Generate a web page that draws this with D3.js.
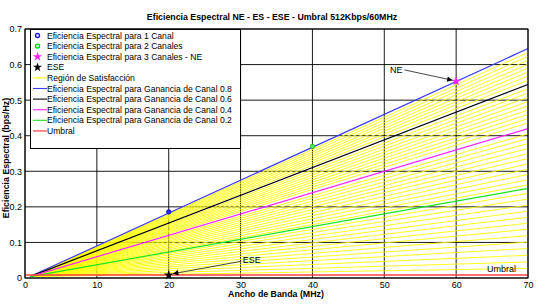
<!DOCTYPE html>
<html><head><meta charset="utf-8">
<script src="https://cdn.jsdelivr.net/npm/d3@7"></script>
<style>body{margin:0;background:#fff}svg{display:block;font-family:"Liberation Sans",Arial,sans-serif}</style>
</head><body><svg id="c" width="545" height="304"></svg>
<script>
const xTicks = [0,10,20,30,40,50,60,70];
const yTicks = [0,0.1,0.2,0.3,0.4,0.5,0.6,0.7];
const lineStart = [0.7, 0.004];
const xEnd = 70;
const gainLabels = ["0.8","0.6","0.4","0.2"];
const gainEnd = [0.645, 0.544, 0.420, 0.252];
const gainColors = ["#3a3aff","#000000","#ff22ff","#19e619"];
const fanEnd = [0.634,0.623,0.612,0.601,0.590,0.579,0.568,0.556,0.532,0.520,0.508,0.496,0.484,0.472,0.460,0.448,0.436,0.405,0.392,0.378,0.364,0.350,0.336,0.321,0.306,0.291,0.276,0.262,0.238,0.222,0.205,0.188,0.171,0.154,0.137,0.119,0.101,0.083,0.064,0.045,0.027];
const umbral = 0.0085;
const pointX = [20, 40, 60, 20];
const pointY = [0.186, 0.370, 0.553, 0.0085];
const legendLabels = ["Eficiencia Espectral para 1 Canal","Eficiencia Espectral para 2 Canales","Eficiencia Espectral para 3 Canales - NE","ESE","Región de Satisfacción","Eficiencia Espectral para Ganancia de Canal 0.8","Eficiencia Espectral para Ganancia de Canal 0.6","Eficiencia Espectral para Ganancia de Canal 0.4","Eficiencia Espectral para Ganancia de Canal 0.2","Umbral"];

const svg = d3.select("#c");
const x = d3.scaleLinear().domain([0,70]).range([25,528]);
const y = d3.scaleLinear().domain([0,0.7]).range([278,29]);
const X0=25,X1=528,Y0=278,Y1=29;

// grid
const g = svg.append("g");
g.selectAll(".vg").data(xTicks).enter().append("line").attr("x1",d=>x(d)).attr("x2",d=>x(d)).attr("y1",Y0).attr("y2",Y1).attr("stroke","#000").attr("stroke-width",0.9);
g.selectAll(".hg").data(yTicks).enter().append("line").attr("x1",X0).attr("x2",X1).attr("y1",d=>y(d)).attr("y2",d=>y(d)).attr("stroke","#000").attr("stroke-width",0.9);

// yellow fan
const line = d3.line().x(d=>x(d[0])).y(d=>y(d[1]));
svg.append("g").selectAll("path").data(fanEnd).enter().append("path")
  .attr("d",d=>line([lineStart,[xEnd,d]])).attr("fill","none").attr("stroke","#ffff00").attr("stroke-width",0.9);

// gain lines
svg.append("g").selectAll("path").data(gainEnd).enter().append("path")
  .attr("d",d=>line([lineStart,[xEnd,d]])).attr("fill","none").attr("stroke",(d,i)=>gainColors[i]).attr("stroke-width",1.2);

// umbral
svg.append("path").attr("d",line([[0,umbral],[70,umbral]])).attr("stroke","#ff4040").attr("stroke-width",1.3).attr("fill","none");

// axes box
svg.append("rect").attr("x",X0).attr("y",Y1).attr("width",X1-X0).attr("height",Y0-Y1).attr("fill","none").attr("stroke","#000").attr("stroke-width",1);

// axes via d3
const xa = svg.append("g").attr("transform",`translate(0,${Y0})`).call(d3.axisBottom(x).tickValues(xTicks).tickSize(0).tickPadding(4).tickFormat(d3.format("d")));
xa.select(".domain").remove();
xa.selectAll("text").attr("font-size",9).attr("font-family","Liberation Sans, Arial").attr("fill","#000");
const ya = svg.append("g").attr("transform",`translate(${X0},0)`).call(d3.axisLeft(y).tickValues(yTicks).tickSize(0).tickPadding(3).tickFormat(d=>d===0?"0":d3.format(".1f")(d)));
ya.select(".domain").remove();
ya.selectAll("text").attr("font-size",9).attr("font-family","Liberation Sans, Arial").attr("fill","#000");

// markers
const star5 = d3.symbol().type(d3.symbolStar).size(28)();
svg.append("circle").attr("cx",x(pointX[0])).attr("cy",y(pointY[0])).attr("r",2.2).attr("fill","#2a2aff").attr("stroke","#0000cc").attr("stroke-width",0.8);
svg.append("circle").attr("cx",x(pointX[1])).attr("cy",y(pointY[1])).attr("r",2.2).attr("fill","#55ee55").attr("stroke","#00cc00").attr("stroke-width",0.8);
svg.append("path").attr("d",star5).attr("transform",`translate(${x(pointX[2])},${y(pointY[2])})`).attr("fill","#ff22ff");
svg.append("path").attr("d",d3.symbol().type(d3.symbolStar).size(30)()).attr("transform",`translate(${x(pointX[3])},${y(pointY[3])})`).attr("fill","#000");

// annotations
const defs = svg.append("defs");
defs.append("marker").attr("id","ah").attr("viewBox","0 0 10 10").attr("refX",10).attr("refY",5).attr("markerWidth",7).attr("markerHeight",6).attr("orient","auto")
  .append("path").attr("d","M0,0L10,5L0,10z").attr("fill","#000");
svg.append("text").attr("x",x(50.8)).attr("y",y(0.585)+3).attr("font-size",9).text("NE");
svg.append("line").attr("x1",x(52.8)).attr("y1",y(0.585)).attr("x2",x(59.5)).attr("y2",y(0.556)).attr("stroke","#333").attr("stroke-width",0.9).attr("marker-end","url(#ah)");
svg.append("text").attr("x",x(30.3)).attr("y",y(0.05)+3).attr("font-size",9).text("ESE");
svg.append("line").attr("x1",x(30.1)).attr("y1",y(0.047)).attr("x2",x(20.6)).attr("y2",y(0.012)).attr("stroke","#333").attr("stroke-width",0.9).attr("marker-end","url(#ah)");
svg.append("text").attr("x",x(64.3)).attr("y",y(0.0085)-3).attr("font-size",9).text("Umbral");

// legend
const L = svg.append("g");
L.append("rect").attr("x",30.5).attr("y",29.5).attr("width",210).attr("height",119).attr("fill","#fff").attr("stroke","#000").attr("stroke-width",1);
const rowY = i => 35.5 + i*10.6;
legendLabels.forEach((t,i)=>{
  L.append("text").attr("x",47).attr("y",rowY(i)+3).attr("font-size",8.6).text(t);
});
L.append("circle").attr("cx",37.5).attr("cy",rowY(0)).attr("r",2).attr("fill","#fff").attr("stroke","#1a1aff").attr("stroke-width",1.4);
L.append("circle").attr("cx",37.5).attr("cy",rowY(1)).attr("r",2).attr("fill","#fff").attr("stroke","#00cc00").attr("stroke-width",1.4);
L.append("path").attr("d",star5).attr("transform",`translate(37.5,${rowY(2)})`).attr("fill","#ff22ff");
L.append("path").attr("d",d3.symbol().type(d3.symbolStar).size(26)()).attr("transform",`translate(37.5,${rowY(3)})`).attr("fill","#000");
const legLines = ["#ffff00"].concat(gainColors).concat(["#ff6060"]);
legLines.forEach((c,k)=>{
  L.append("line").attr("x1",33).attr("x2",47).attr("y1",rowY(4+k)).attr("y2",rowY(4+k)).attr("stroke",c).attr("stroke-width",k===5?1.5:1.1);
});

// titles
svg.append("text").attr("x",272).attr("y",20).attr("text-anchor","middle").attr("font-size",8.8).attr("font-weight","bold").text("Eficiencia Espectral NE - ES - ESE - Umbral 512Kbps/60MHz");
svg.append("text").attr("x",276).attr("y",297).attr("text-anchor","middle").attr("font-size",8.8).attr("font-weight","bold").text("Ancho de Banda (MHz)");
svg.append("text").attr("transform","translate(9,158) rotate(-90)").attr("text-anchor","middle").attr("font-size",8.8).attr("font-weight","bold").text("Eficiencia Espectral (bps/Hz)");
</script></body></html>
